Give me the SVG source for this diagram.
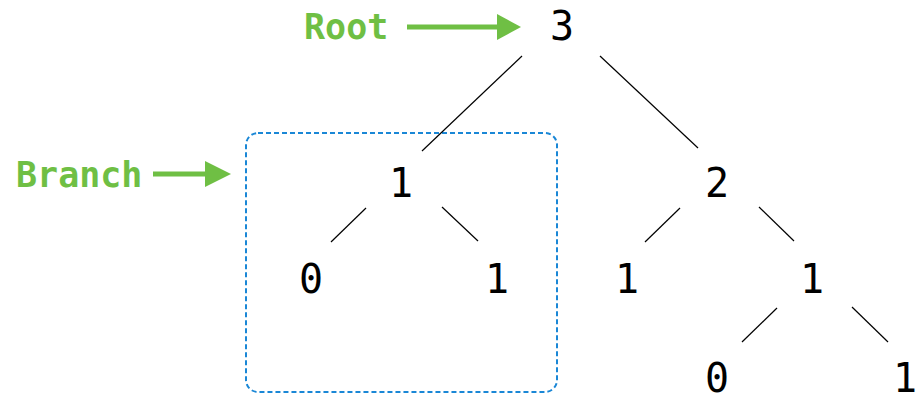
<svg xmlns="http://www.w3.org/2000/svg" width="919" height="398" viewBox="0 0 919 398">
<style>
.n{font-family:"DejaVu Sans Mono",monospace;font-size:40px;fill:#000;text-anchor:middle}
.lbl{font-family:"DejaVu Sans Mono",monospace;font-size:35px;font-weight:bold;fill:#6fbf44}
.e{stroke:#000;stroke-width:1.2}
.ga{stroke:#6fbf44;stroke-width:5}
</style>
<rect x="0" y="0" width="919" height="398" fill="#fff"/>
<g id="branch-box"><rect x="246" y="133" width="311" height="259" rx="12" fill="none" stroke="#1a87d6" stroke-width="2" stroke-dasharray="5,3"/></g>
<g id="connectors">
<line class="e" x1="522" y1="56" x2="422" y2="151"/>
<line class="e" x1="600" y1="56" x2="698" y2="148"/>
<line class="e" x1="366" y1="208" x2="331" y2="242"/>
<line class="e" x1="442" y1="207" x2="478" y2="241"/>
<line class="e" x1="680" y1="208" x2="645" y2="242"/>
<line class="e" x1="759" y1="207" x2="794" y2="241"/>
<line class="e" x1="777" y1="308" x2="742" y2="342"/>
<line class="e" x1="852" y1="307" x2="888" y2="342"/>
</g>
<g id="root-label"><text class="lbl" x="304" y="39">Root</text>
<line class="ga" x1="407" y1="27" x2="499" y2="27"/><polygon points="497,14 521,27 497,40" fill="#6fbf44"/></g>
<g id="branch-label"><text class="lbl" x="16" y="187">Branch</text>
<line class="ga" x1="153" y1="174" x2="207" y2="174"/><polygon points="205,161 231,174 205,187" fill="#6fbf44"/></g>
<g id="n3"><text class="n" x="562" y="40">3</text></g>
<g id="n1a"><text class="n" x="401" y="197">1</text></g>
<g id="n2"><text class="n" x="717" y="197">2</text></g>
<g id="n0a"><text class="n" x="311" y="293">0</text></g>
<g id="n1b"><text class="n" x="497" y="293">1</text></g>
<g id="n1c"><text class="n" x="627" y="293">1</text></g>
<g id="n1d"><text class="n" x="812" y="293">1</text></g>
<g id="n0b"><text class="n" x="717" y="392">0</text></g>
<g id="n1e"><text class="n" x="905" y="392">1</text></g>
</svg>
